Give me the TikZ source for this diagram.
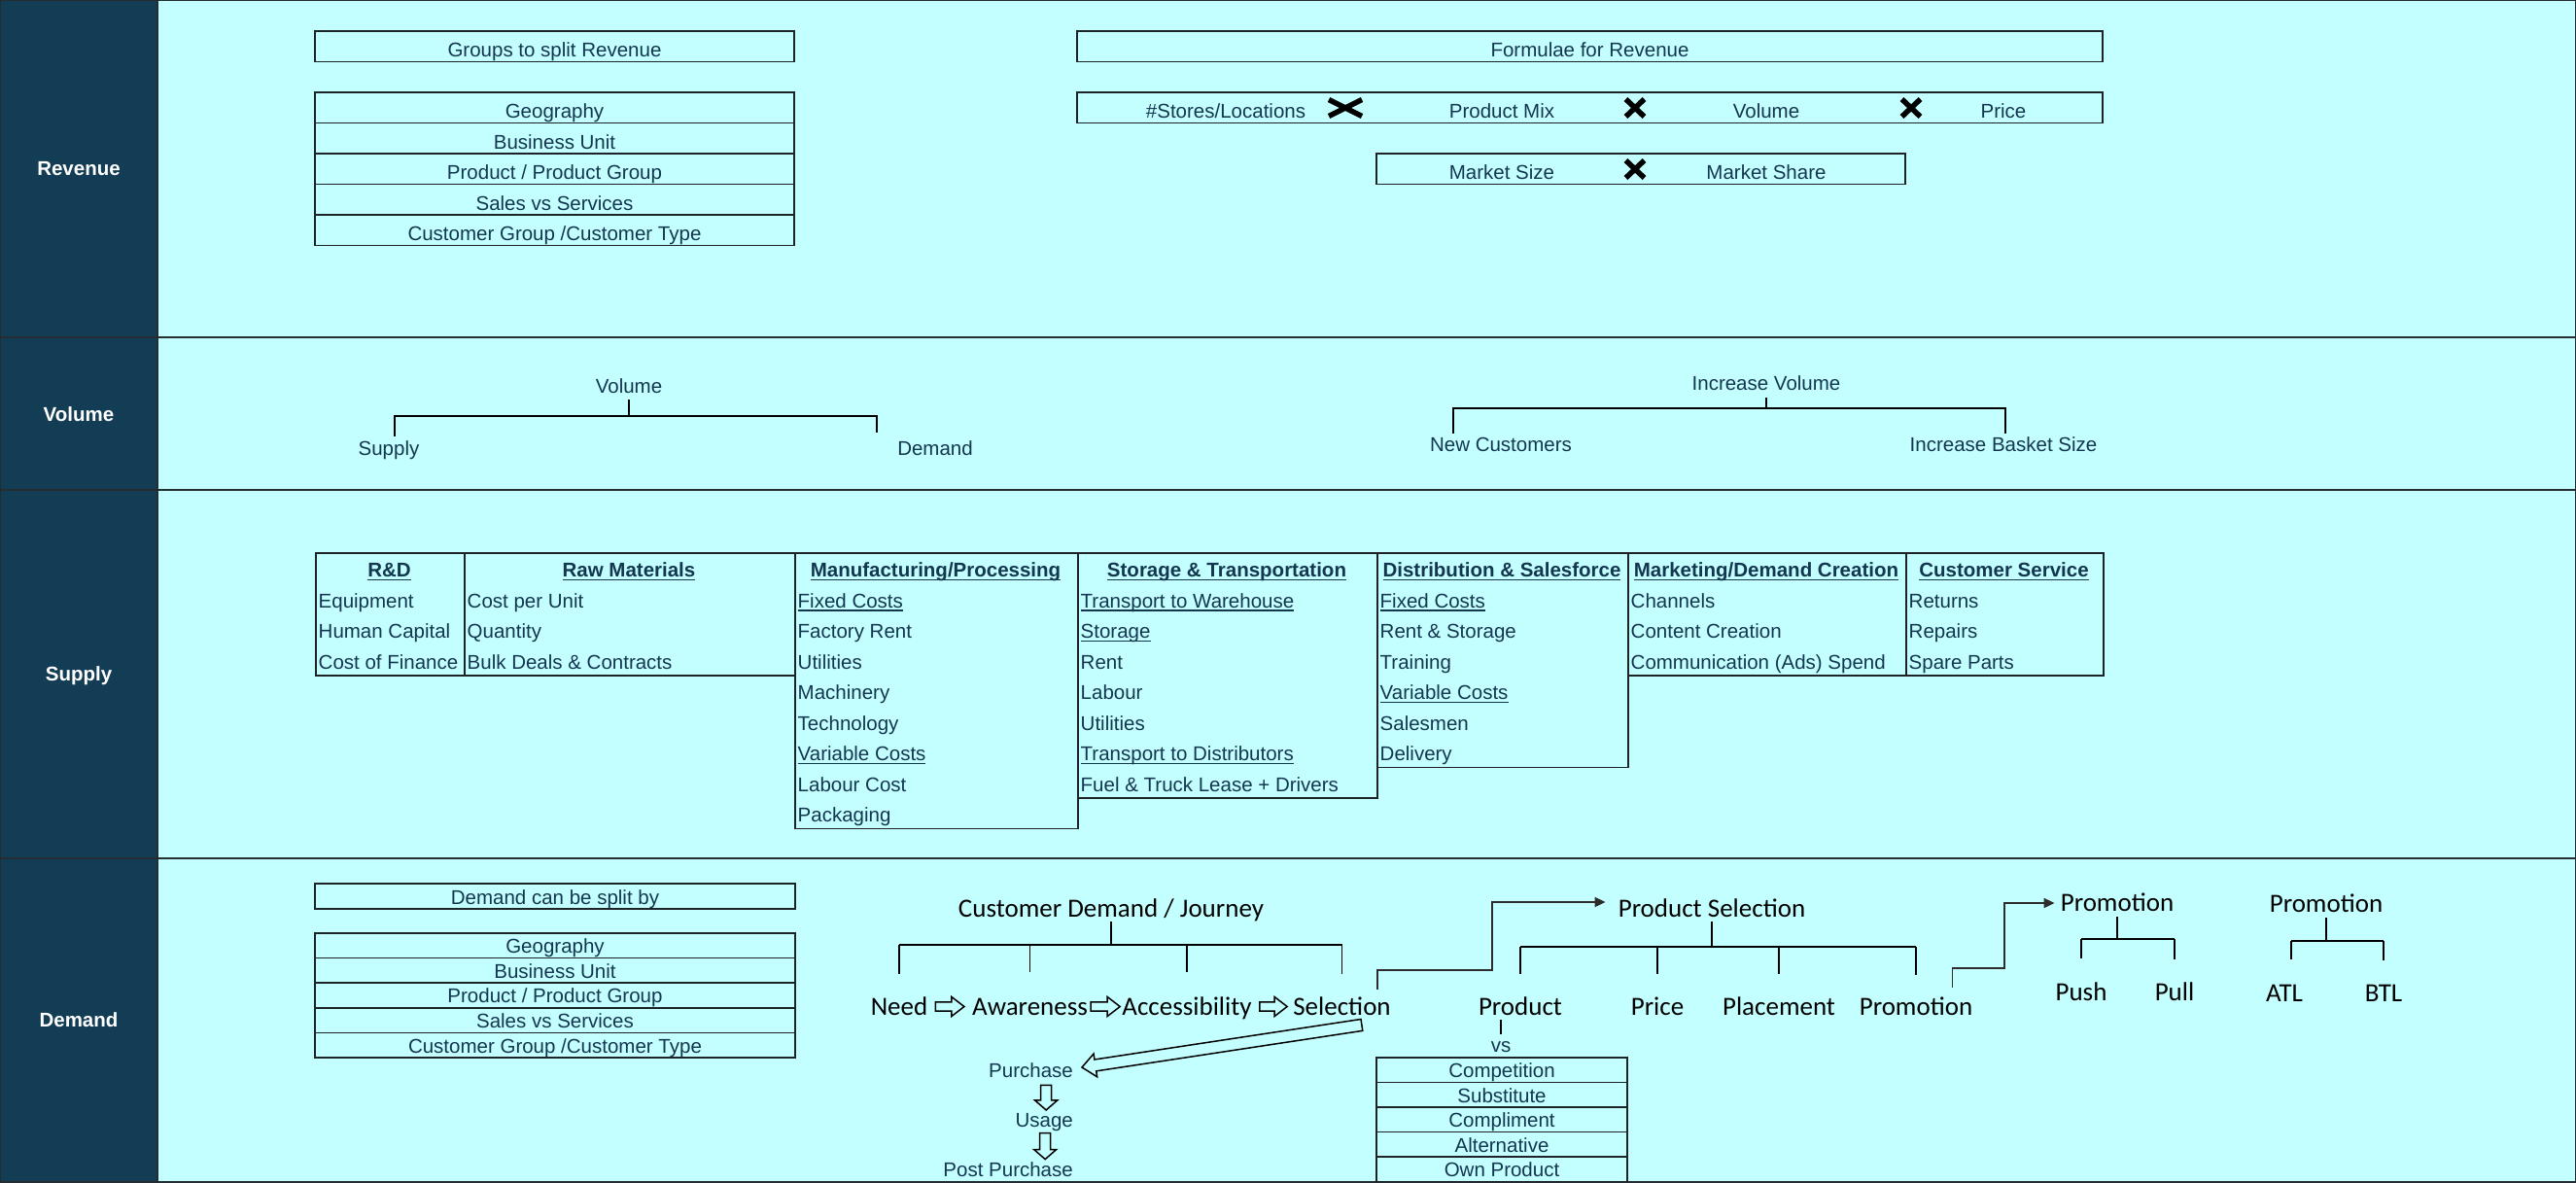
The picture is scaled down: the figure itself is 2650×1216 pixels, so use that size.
\documentclass[tikz,border=0pt]{standalone}
\usepackage{fontspec}
\newfontfamily\arl{Liberation Sans}
\newfontfamily\carl{Carlito}
\usetikzlibrary{calc,arrows.meta}
\definecolor{bgc}{RGB}{196,255,255}
\definecolor{band}{RGB}{19,61,85}
\definecolor{txt}{RGB}{20,55,80}
\definecolor{bord}{RGB}{30,35,40}
\definecolor{rowl}{RGB}{35,45,50}
\definecolor{elc}{RGB}{45,45,45}
\newcommand{\arf}{\arl\fontsize{20.5pt}{24pt}\selectfont}
\newcommand{\calf}{\carl\fontsize{27pt}{32pt}\selectfont}
\newcommand{\myul}[1]{\setbox0=\hbox{#1}\rlap{\rule[-3.8pt]{\wd0}{1.7pt}}\box0}
\newcommand{\blockarrow}[5]{%
  \draw[harr] ($(#1)!#3!90:(#2)$) -- ($(#2)!#5!(#1)!#3!-90:(#1)$) -- ($(#2)!#5!(#1)!#4!-90:(#1)$) -- (#2) -- ($(#2)!#5!(#1)!#4!90:(#1)$) -- ($(#2)!#5!(#1)!#3!90:(#1)$) -- ($(#1)!#3!-90:(#2)$) -- cycle;}
\newcommand{\xmk}[4]{\draw[xmkl] (#1-#3,#2-#4) -- (#1+#3,#2+#4) (#1-#3,#2+#4) -- (#1+#3,#2-#4);}
\newcommand{\scol}[6]{%
  \node[colbox, anchor=north west, minimum width={(#3-#2)*1pt}, minimum height={#4*31.5pt}] (#1) at (#2,568) {};
  \node[arb, anchor=base] (#1-h) at ({(#2+#3)/2},593.5) {\myul{#5}};
  \foreach \itm [count=\i] in {#6} {\node[ar, anchor=base west] (#1-\i) at ({#2+3.5},{568+31.5*\i+25.5}) {\itm};}%
}
\tikzset{
  ar/.style={font=\arf, text=txt, inner sep=0pt, text height=14.7pt, text depth=0pt},
  arb/.style={ar, font=\arf\bfseries},
  lbl/.style={ar, font=\arf\bfseries, text=white},
  cal/.style={font=\calf, text=black, inner sep=0pt, text height=17.4pt, text depth=0pt},
  rbox/.style={ar, draw=bord, line width=1.5pt, minimum height=31.5pt, text height=21.5pt},
  dbox/.style={ar, draw=bord, line width=1.5pt, minimum height=25.6pt, text height=15.6pt},
  colbox/.style={draw=bord, line width=1.5pt, inner sep=0pt},
  ln/.style={draw=black, line width=1.6pt},
  elb/.style={draw=elc, line width=1.8pt, -{Triangle[length=11pt,width=10pt]}},
  harr/.style={draw=black, fill=bgc, line width=1.5pt, line join=miter},
  xmkl/.style={draw=black, line width=5.5pt},
  rowline/.style={draw=rowl, line width=2.5pt},
}
\begin{document}
\begin{tikzpicture}[x=1pt,y=-1pt]
\useasboundingbox (0,0) rectangle (2650,1216);
\fill[bgc] (0,0) rectangle (2650,1216);
\fill[band] (0,0) rectangle (162,1216);
\draw[rowline] (0,347) -- (2650,347);
\draw[rowline] (0,504) -- (2650,504);
\draw[rowline] (0,883) -- (2650,883);
\draw[rowline] (162,0) -- (162,1216);
\draw[rowline] (0,0) rectangle (2650,1216);

% left labels
\node[lbl] (Lrev) at (81,173.5) {Revenue};
\node[lbl] (Lvol) at (81,426) {Volume};
\node[lbl] (Lsup) at (81,693.5) {Supply};
\node[lbl] (Ldem) at (81,1049.5) {Demand};

% ---------- Revenue ----------
\node[rbox, minimum width=493pt] (grp) at (570.5,47.5) {Groups to split Revenue};
\foreach \itm [count=\i from 0] in {Geography, Business Unit, Product / Product Group, Sales vs Services, Customer Group /Customer Type}
  \node[rbox, minimum width=493pt] (rg\i) at (570.5,{110.75+31.5*\i}) {\itm};

\node[rbox, minimum width=1055pt] (form) at (1635.5,47.5) {Formulae for Revenue};
\node[rbox, minimum width=1055pt] (frow) at (1635.5,110.75) {};
\node[ar, anchor=base] (f1) at (1261,121.5) {\#Stores/Locations};
\node[ar, anchor=base] (f2) at (1545,121.5) {Product Mix};
\node[ar, anchor=base] (f3) at (1817,121.5) {Volume};
\node[ar, anchor=base] (f4) at (2061,121.5) {Price};
\xmk{1384}{111}{17}{8.5}
\xmk{1682}{111}{9.5}{9}
\xmk{1966}{111}{9.5}{9}
\node[rbox, minimum width=544pt] (mkt) at (1688,173.75) {};
\node[ar, anchor=base] (m1) at (1545,184.5) {Market Size};
\node[ar, anchor=base] (m2) at (1817,184.5) {Market Share};
\xmk{1682}{174}{9.5}{9}

% ---------- Volume ----------
\node[ar] (vol) at (647,397) {Volume};
\node[ar] (vsup) at (400,461) {Supply};
\node[ar] (vdem) at (962,461) {Demand};
\coordinate (vjl) at (406,428);
\coordinate (vjr) at (902,428);
\draw[ln, line width=1.4pt] ([yshift=-6.6pt]vol.south) -- (vol.south |- vjl);
\draw[ln, line width=1.4pt] (406,449) -- (vjl) -- (vjr) -- (902,445);

\node[ar] (incv) at (1817,394.5) {Increase Volume};
\node[ar] (newc) at (1544,457.5) {New Customers};
\node[ar] (ibs) at (2061,457.5) {Increase Basket Size};
\coordinate (ivl) at (1495,420);
\coordinate (ivr) at (2063,420);
\draw[ln, line width=1.4pt] ([yshift=-6.5pt]incv.south) -- (incv.south |- ivl);
\draw[ln, line width=1.4pt] (1495,446) -- (ivl) -- (ivr) -- (2063,446);

% ---------- Supply ----------
\scol{rd}{324}{477}{4}{R\&D}{Equipment, Human Capital, Cost of Finance}
\scol{rm}{477}{817}{4}{Raw Materials}{Cost per Unit, Quantity, Bulk Deals \& Contracts}
\scol{mf}{817}{1108}{9}{Manufacturing/Processing}{\myul{Fixed Costs}, Factory Rent, Utilities, Machinery, Technology, \myul{Variable Costs}, Labour Cost, Packaging}
\scol{st}{1108}{1416}{8}{Storage \& Transportation}{\myul{Transport to Warehouse}, \myul{Storage}, Rent, Labour, Utilities, \myul{Transport to Distributors}, Fuel \& Truck Lease + Drivers}
\scol{ds}{1416}{1674}{7}{Distribution \& Salesforce}{\myul{Fixed Costs}, Rent \& Storage, Training, \myul{Variable Costs}, Salesmen, Delivery}
\scol{mk}{1674}{1960}{4}{Marketing/Demand Creation}{Channels, Content Creation, Communication (Ads) Spend}
\scol{cs}{1960}{2163}{4}{Customer Service}{Returns, Repairs, Spare Parts}

% ---------- Demand ----------
\node[dbox, minimum width=494pt, minimum height=26pt, text height=16pt] (dsp) at (571,922) {Demand can be split by};
\foreach \itm [count=\i from 0] in {Geography, Business Unit, Product / Product Group, Sales vs Services, Customer Group /Customer Type}
  \node[dbox, minimum width=494pt] (dl\i) at (571,{972.8+25.6*\i}) {\itm};

% customer journey
\node[cal] (cdj) at (1143,934.5) {Customer Demand / Journey};
\node[cal] (need) at (925,1035.5) {Need};
\node[cal] (aw) at (1059.5,1035.5) {Awareness};
\node[cal] (acc) at (1221,1035.5) {Accessibility};
\node[cal] (sel) at (1380.5,1035.5) {Selection};
\coordinate (cdjh) at (1143,972);
\draw[ln] ([yshift=-5pt]cdj.south) -- (cdj.south |- cdjh);
\draw[ln] (need.north |- cdjh) -- (sel.north |- cdjh);
\draw[ln] (need.north |- cdjh) -- ++(0,30);
\draw[ln] (aw.north |- cdjh) -- ++(0,28);
\draw[ln] (acc.north |- cdjh) -- ++(0,28);
\draw[ln] (sel.north |- cdjh) -- ++(0,30);

\coordinate (j1a) at ($(need.east)+(8,0)$);  \coordinate (j1b) at ($(aw.west)+(-8,0)$);
\coordinate (j2a) at ($(aw.east)+(3,0)$);    \coordinate (j2b) at ($(acc.west)+(-2,0)$);
\coordinate (j3a) at ($(acc.east)+(8,0)$);   \coordinate (j3b) at ($(sel.west)+(-6,0)$);
\blockarrow{j1a}{j1b}{4.7pt}{10pt}{13pt}
\blockarrow{j2a}{j2b}{4.7pt}{10pt}{13pt}
\blockarrow{j3a}{j3b}{4.7pt}{10pt}{13pt}

\node[ar, anchor=east] (pur) at (1104,1101) {Purchase};
\node[ar, anchor=east] (usg) at (1104,1152) {Usage};
\node[ar, anchor=east] (pp) at (1104,1203) {Post Purchase};
\coordinate (ba1) at ([xshift=-30pt,yshift=-10pt]sel.south east);
\coordinate (ba2) at ([xshift=9pt,yshift=3pt]pur.east);
\blockarrow{ba1}{ba2}{6pt}{12pt}{14pt}
\coordinate (d1a) at ([xshift=2pt,yshift=28pt]usg.north);
\coordinate (d1b) at ([xshift=2pt,yshift=2.5pt]usg.north);
\blockarrow{d1a}{d1b}{5.5pt}{11.5pt}{10pt}
\coordinate (d2a) at ([xshift=1pt,yshift=-6pt]usg.south);
\coordinate (d2b) at ([xshift=1pt,yshift=-33pt]usg.south);
\blockarrow{d2a}{d2b}{5.5pt}{11.5pt}{10pt}

% product selection
\node[cal] (psel) at (1761,934.5) {Product Selection};
\node[cal] (prod) at (1564,1035.5) {Product};
\node[cal] (price) at (1705,1035.5) {Price};
\node[cal] (plac) at (1830,1035.5) {Placement};
\node[cal] (prom) at (1971,1035.5) {Promotion};
\coordinate (psh) at (1763,974);
\draw[ln] ([yshift=-5pt]psel.south) -- (psel.south |- psh);
\draw[ln] (prod.north |- psh) -- (prom.north |- psh);
\draw[ln] (prod.north |- psh) -- ++(0,28);
\draw[ln] (price.north |- psh) -- ++(0,28);
\draw[ln] (plac.north |- psh) -- ++(0,28);
\draw[ln] (prom.north |- psh) -- ++(0,29);

\coordinate (e1m) at (1535,998);
\draw[elb] ([xshift=-14pt,yshift=9pt]sel.north east) |- (e1m) |- ([xshift=-13pt,yshift=6.5pt]psel.west);

\node[ar] (vs) at (1544,1075) {vs};
\draw[ln, line width=1.3pt] ([yshift=3.6pt]vs.north) -- ([yshift=-5pt]vs.north |- prod.south);
\foreach \itm [count=\i from 0] in {Competition, Substitute, Compliment, Alternative, Own Product}
  \node[dbox, minimum width=258pt, minimum height=25.5pt, text height=15.5pt] (cp\i) at (1545,{1100.75+25.5*\i}) {\itm};

% promotion trees
\node[cal] (prom1) at (2178,929) {Promotion};
\node[cal] (push) at (2141,1021) {Push};
\node[cal] (pull) at (2237,1021) {Pull};
\coordinate (p1h) at (2182,966);
\draw[ln] ([yshift=-5.3pt]prom1.south) -- (prom1.south |- p1h);
\draw[ln] (push.north |- p1h) -- (pull.north |- p1h);
\draw[ln] (push.north |- p1h) -- ++(0,20);
\draw[ln] (pull.north |- p1h) -- ++(0,21);
\coordinate (e2m) at (2062,996);
\draw[elb] ([xshift=-21pt,yshift=11pt]prom.north east) |- (e2m) |- ([xshift=-6pt]prom1.west);

\node[cal] (prom2) at (2393,929.5) {Promotion};
\node[cal] (atl) at (2350,1021.5) {ATL};
\node[cal] (btl) at (2452,1021.5) {BTL};
\coordinate (p2h) at (2396,968);
\draw[ln] ([yshift=-5.8pt]prom2.south) -- (prom2.south |- p2h);
\draw[ln] ([xshift=7pt]atl.north |- p2h) -- (btl.north |- p2h);
\draw[ln] ([xshift=7pt]atl.north |- p2h) -- ++(0,19);
\draw[ln] (btl.north |- p2h) -- ++(0,20);
\end{tikzpicture}
\end{document}
